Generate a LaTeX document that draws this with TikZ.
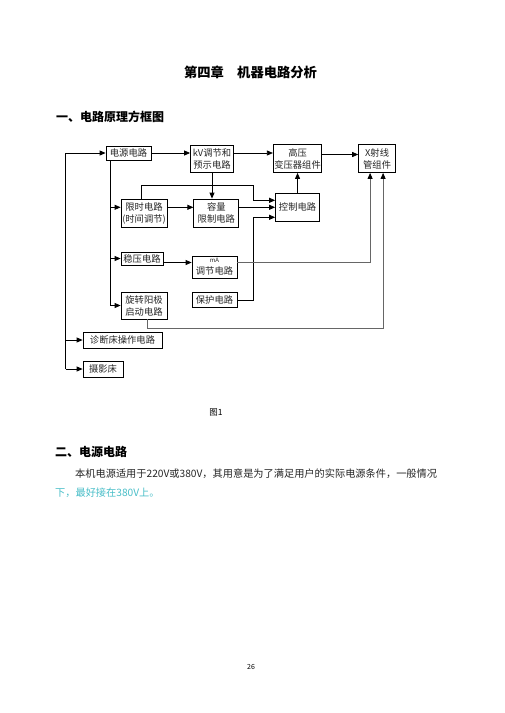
\documentclass[tikz,border=0pt]{standalone}
\usepackage{fontspec}
\newfontfamily\cjk{Noto Sans CJK SC}
\usetikzlibrary{positioning,arrows.meta,calc}
\definecolor{noteteal}{RGB}{72,190,200}

\begin{document}
\begin{tikzpicture}[
        x=1pt, y=-1pt,
        font=\cjk,
        block/.style={draw, line width=0.8pt, inner sep=1pt, align=center, text=black!85, font=\cjk\fontsize{9.3}{12}\selectfont},
        arrow/.style={-{Triangle[length=6pt,width=5pt,color=black]}, line width=0.8pt},
        faint/.style={draw=black!60},
        heading/.style={anchor=west, inner sep=0pt, font=\cjk\bfseries\fontsize{12}{14}\selectfont},
        body/.style={anchor=west, inner sep=0pt, text=black!85, font=\cjk\fontsize{10.2}{12}\selectfont}
    ]
    \fill[white] (0,0) rectangle (504,713);
    \useasboundingbox (0,0) rectangle (504,713);

    % Headings
    \node[font=\cjk\bfseries\fontsize{13.3}{16}\selectfont] (title) at (250.5,72) {第四章　机器电路分析};
    \node[heading] (sec1) at (56,117) {一、电路原理方框图};

    % Top row
    \node[block, minimum width=45pt, minimum height=14pt] (dy) at (128.5,153) {电源电路};
    \node[block, minimum width=43pt, minimum height=27pt] (kv) at (212,158.5) {kV调节和\\预示电路};
    \node[block, minimum width=47pt, minimum height=28pt, right=39pt of kv] (gy) {高压\\变压器组件};
    \node[block, minimum width=37pt, minimum height=28pt, right=36pt of gy] (xr) {X射线\\管组件};

    % Middle blocks
    \node[block, minimum width=44pt, minimum height=28pt, below=20pt of gy] (kz) {控制电路};
    \node[block, minimum width=46pt, minimum height=28pt] (xs) at (144,213) {限时电路\\(时间调节)};
    \node[block, minimum width=45pt, minimum height=28pt, right=26pt of xs] (rl) {容量\\限制电路};
    \node[block, minimum width=42pt, minimum height=13pt] (wy) at (142,258.5) {稳压电路};
    \node[block, minimum width=45pt, minimum height=22pt] (ma) at (214.5,267) {{\fontsize{6}{6}\selectfont mA}\\调节电路};
    \node[block, minimum width=45pt, minimum height=15pt, below=14pt of ma] (bh) {保护电路};
    \node[block, minimum width=46pt, minimum height=27pt] (xz) at (144,305.5) {旋转阳极\\启动电路};

    % Bed blocks
    \node[block, minimum width=79pt, minimum height=16pt] (zd) at (122.5,340) {诊断床操作电路};
    \node[block, minimum width=40pt, minimum height=16pt] (sy) at (103,369) {摄影床};

    % Left bus
    \coordinate (lb) at ([xshift=-17pt]sy.west);
    \draw[arrow] (lb) |- (dy.west);
    \draw[arrow] (lb |- zd.west) -- (zd.west);
    \draw[arrow] (lb) -- (sy.west);

    % Inner bus
    \coordinate (bt) at ([xshift=5pt]dy.south west);
    \draw[arrow] (bt) |- (xz.west);
    \draw[arrow] (bt |- kz) -- (xs.west |- kz);
    \draw[arrow] (bt |- wy.west) -- (wy.west);

    % Top row lines
    \draw[arrow] (dy.east) -- (dy.east -| kv.west);
    \draw[arrow] (kv.east |- dy.east) -- (gy.west |- dy.east);
    \draw[arrow] ([yshift=4pt]gy.east) -- ([yshift=4pt]xr.west);
    \draw[arrow] (kv) -- (kv |- rl.north);

    % Into control
    \coordinate (kin) at (253,185);
    \coordinate (k1) at ([yshift=7pt]kz.west);
    \coordinate (k3) at ([yshift=-10pt]kz.west);
    \draw[arrow] ([xshift=-3pt]xs.north) |- (kin) |- (k1);
    \draw[arrow] (xs.east |- kz) -- (rl.west |- kz);
    \draw[arrow] (rl.east |- kz) -- (kz.west);
    \draw[arrow] (bh.east) -| (kin |- k3) -- (k3);
    \draw[arrow] (kz) -- (gy);

    % mA path
    \coordinate (w1) at ([yshift=-4pt]wy.east);
    \draw[arrow] (w1) -- (w1 -| ma.west);

    % Feedback to tube
    \coordinate (x1) at ([xshift=-7pt]xr.south);
    \coordinate (x2) at ([xshift=6pt]xr.south);
    \draw[arrow, faint] ([yshift=5pt]ma.east) -| (x1);
    \draw[arrow, faint] ([xshift=3pt]xz.south) -- ++(0,9) -| (x2);

    % Caption and text
    \node[font=\cjk\fontsize{8.5}{10}\selectfont] (fig) at (216,412) {图1};
    \node[heading] (sec2) at (55,452) {二、电源电路};
    \node[body] (p1) at (75,474) {本机电源适用于220V或380V，其用意是为了满足用户的实际电源条件，一般情况};
    \node[body, text=noteteal] (p2) at (55,493) {下，最好接在380V上。};
    \node[font=\cjk\fontsize{7}{8}\selectfont] (page) at (251,667) {26};

\end{tikzpicture}
\end{document}
